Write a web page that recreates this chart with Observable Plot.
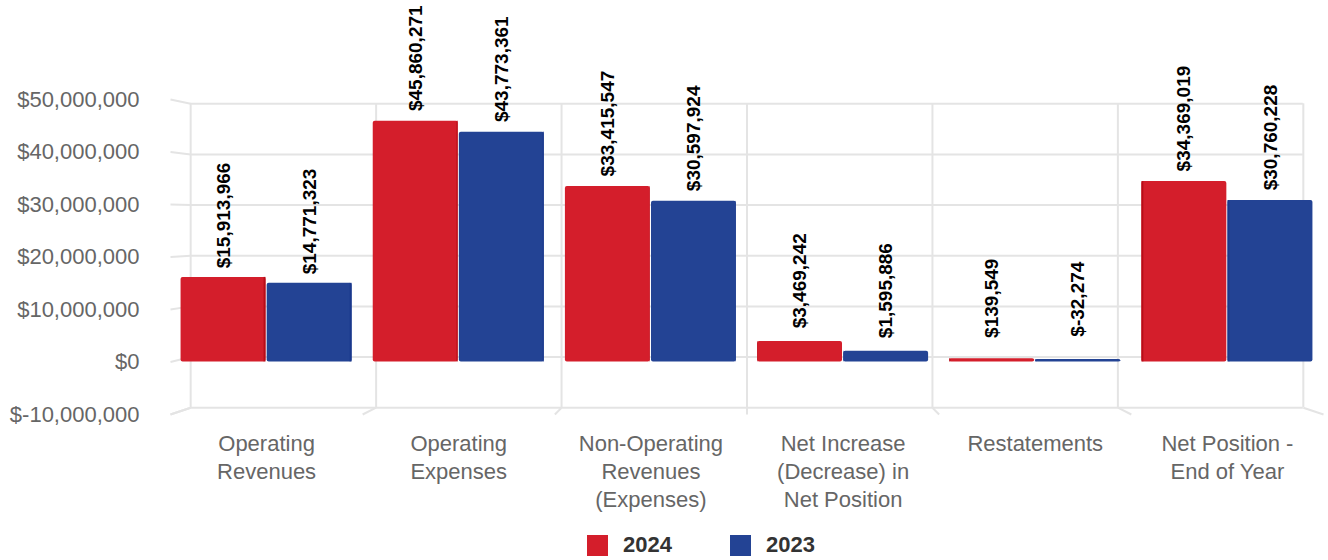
<!DOCTYPE html>
<html>
<head>
<meta charset="utf-8">
<script src="https://cdn.jsdelivr.net/npm/d3@7"></script>
<script src="https://cdn.jsdelivr.net/npm/@observablehq/plot@0.6"></script>
<style>
  html, body { margin: 0; padding: 0; background: #fff; }
  #legend { position: relative; height: 33px; width: 1328px; font-family: "Liberation Sans", Arial, sans-serif; }
  .sw { position: absolute; top: 8px; width: 21px; height: 21px; }
  .lt { position: absolute; top: 3px; font-size: 22px; font-weight: bold; color: #333; line-height: 30px; }
</style>
</head>
<body>
<div id="chart"></div>
<div id="legend"></div>
<script>
const categories = [
  "Operating\nRevenues",
  "Operating\nExpenses",
  "Non-Operating\nRevenues\n(Expenses)",
  "Net Increase\n(Decrease) in\nNet Position",
  "Restatements",
  "Net Position -\nEnd of Year"
];
const years = ["2024", "2023"];
const values2024 = [15913966, 45860271, 33415547, 3469242, 139549, 34369019];
const values2023 = [14771323, 43773361, 30597924, 1595886, -32274, 30760228];
const yTicks = [-10000000, 0, 10000000, 20000000, 30000000, 40000000, 50000000];

const colors = ["#d41e2b", "#234394"];
const sideColors = ["#b70d18", "#1a388c"];

const rows = [];
categories.forEach((c, i) => {
  rows.push({i, category: c, year: years[0], value: values2024[i]});
  rows.push({i, category: c, year: years[1], value: values2023[i]});
});

// bar geometry (in category units)
const half = 0.445, gap = 0.003;
const bx1 = d => d.i + (d.year === years[0] ? -half : gap);
const bx2 = d => d.i + (d.year === years[0] ? -gap : half);
const bcx = d => (bx1(d) + bx2(d)) / 2;
// pseudo-3D depth
const k = 0.965, kBar = 0.982, cx = (categories.length - 1) / 2, cy = 27000000;
const backX = v => cx + (v - cx) * k;
const backY = v => cy + (v - cy) * k;
// visible top of a bar: includes its top face when the top lies below the eye line
const barTop = v => v < cy ? cy + (v - cy) * kBar : v;
const yMin = yTicks[0], yMax = yTicks[yTicks.length - 1];
const bounds = categories.map((_, i) => i - 0.5).concat([categories.length - 0.5]);
const sideW = d => Math.abs(d.i - cx) * 0.004;
const fmt = v => "$" + v.toLocaleString("en-US");

const grid = {stroke: "#e4e4e4", strokeWidth: 2};

const chart = Plot.plot({
  width: 1328,
  height: 527,
  marginLeft: 170,
  marginRight: 5,
  marginTop: 99,
  marginBottom: 113,
  style: {fontFamily: "'Liberation Sans', Arial, sans-serif", fontSize: "22px", color: "#666", background: "#fff"},
  x: {domain: [-0.5, categories.length - 0.5], axis: null},
  y: {domain: [yMin, yMax], ticks: yTicks, tickFormat: fmt, tickSize: 0, tickPadding: 31, label: null},
  color: {domain: years, range: colors},
  marks: [
    Plot.ruleY(yTicks, {y: d => backY(d), x1: backX(-0.5), x2: backX(categories.length - 0.5), ...grid}),
    Plot.ruleX(bounds, {x: d => backX(d), y1: backY(yMin), y2: backY(yMax), ...grid}),
    Plot.link(yTicks, {x1: -0.5, y1: d => d, x2: backX(-0.5), y2: d => backY(d), ...grid}),
    Plot.link(bounds, {x1: d => d, y1: yMin, x2: d => backX(d), y2: backY(yMin), ...grid}),
    Plot.rect(rows, {x1: bx1, x2: bx2, y1: () => 0, y2: d => barTop(d.value), fill: "year", rx: 2}),
    Plot.rect(rows, {
      x1: d => d.i < cx ? bx2(d) - sideW(d) : bx1(d),
      x2: d => d.i < cx ? bx2(d) : bx1(d) + sideW(d),
      y1: () => 0, y2: d => barTop(d.value),
      fill: d => sideColors[years.indexOf(d.year)]
    }),
    Plot.text(rows, {x: bcx, y: "value", text: d => fmt(d.value), rotate: -90, dy: -63,
      fontSize: 19, fontWeight: "bold", fill: "#000"}),
    Plot.text(categories, {x: (d, i) => i, y: () => yMin, text: d => d, lineAnchor: "top",
      dy: 16, lineHeight: 1.28, fontSize: 22, fill: "#666"})
  ]
});
document.getElementById("chart").appendChild(chart);

const legend = document.getElementById("legend");
const lx = [[587, 623], [730, 766]];
years.forEach((y, j) => {
  const s = document.createElement("div");
  s.className = "sw"; s.style.left = lx[j][0] + "px"; s.style.background = colors[j];
  const t = document.createElement("div");
  t.className = "lt"; t.style.left = lx[j][1] + "px"; t.textContent = y;
  legend.appendChild(s); legend.appendChild(t);
});
</script>
</body>
</html>
